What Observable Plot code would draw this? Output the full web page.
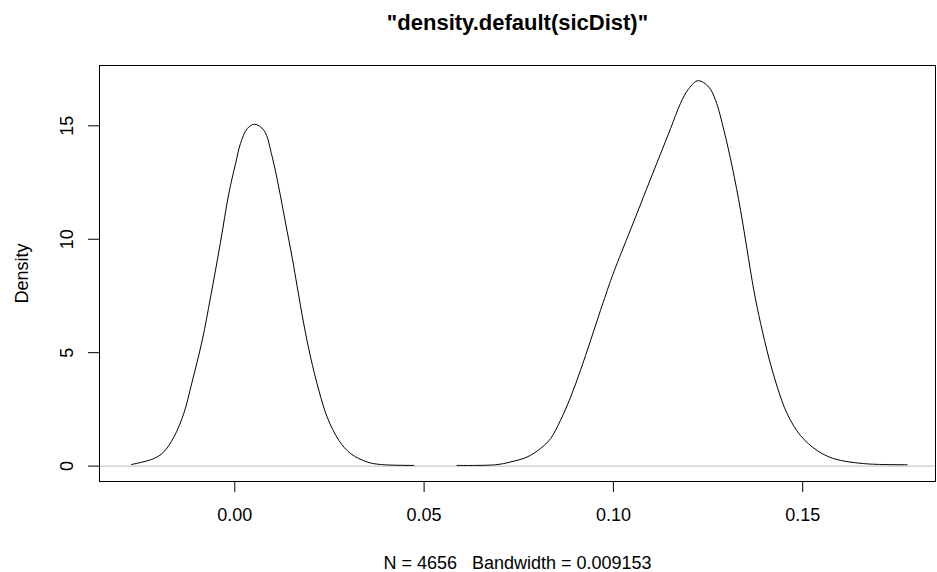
<!DOCTYPE html>
<html>
<head>
<meta charset="utf-8">
<script src="https://cdn.jsdelivr.net/npm/d3@7"></script>
<script src="https://cdn.jsdelivr.net/npm/@observablehq/plot@0.6"></script>
<style>
  html, body { margin: 0; padding: 0; background: #fff; }
  #chart svg { display: block; }
</style>
</head>
<body>
<div id="chart"></div>
<script>
// Density estimate (x: sicDist value, y: density)
const densX = [
  -0.0273, -0.0214, -0.0188, -0.0161, -0.0135, -0.0113, -0.0086, -0.0064, -0.0038, -0.0016,
  0.0002, 0.0015, 0.0033, 0.0052, 0.0077, 0.0099, 0.0116, 0.0134, 0.0152, 0.0165,
  0.0182, 0.0200, 0.0222, 0.0244, 0.0275, 0.0306, 0.0350, 0.0385, 0.0473,
  0.0530,
  0.0587, 0.0689, 0.0728, 0.0772, 0.0807, 0.0834, 0.0860, 0.0887, 0.0913, 0.0940,
  0.0966, 0.0993, 0.1006, 0.1027, 0.1054, 0.1080, 0.1102, 0.1124, 0.1151, 0.1177,
  0.1199, 0.1224, 0.1252, 0.1270, 0.1292, 0.1314, 0.1336, 0.1353, 0.1371, 0.1389,
  0.1410, 0.1433, 0.1459, 0.1494, 0.1538, 0.1582, 0.1661, 0.1776
];
const densY = [
  0.07, 0.33, 0.62, 1.28, 2.31, 3.70, 5.55, 7.45, 9.85, 12.0,
  13.33, 14.22, 14.88, 15.07, 14.80, 13.62, 12.30, 10.72, 9.15, 7.89,
  6.28, 4.81, 3.34, 2.16, 1.13, 0.55, 0.18, 0.07, 0.03,
  null,
  0.03, 0.06, 0.18, 0.40, 0.77, 1.21, 2.01, 3.04, 4.22, 5.55,
  6.87, 8.19, 8.77, 9.66, 10.79, 11.89, 12.82, 13.74, 14.88, 15.98,
  16.64, 16.99, 16.71, 16.12, 14.80, 13.18, 11.27, 9.55, 7.75, 6.28,
  4.81, 3.48, 2.31, 1.35, 0.69, 0.33, 0.11, 0.06
];
const xTicks = [0.00, 0.05, 0.10, 0.15];
const yTicks = [0, 5, 10, 15];
const titleText = "\"density.default(sicDist)\"";
const yLabel = "Density";
const caption = "N = 4656   Bandwidth = 0.009153";

const rows = densX.map((x, i) => ({x, y: densY[i] == null ? NaN : densY[i]}));

const font = "'Liberation Sans', Arial, Helvetica, sans-serif";

const chart = Plot.plot({
  width: 937,
  height: 572,
  marginLeft: 99,
  marginRight: 2,
  marginTop: 65,
  marginBottom: 91,
  style: {fontFamily: font, fontSize: "18px", color: "#000", background: "#fff"},
  x: {domain: [-0.03574, 0.18508]},
  y: {domain: [-0.679, 17.66]},
  marks: [
    Plot.ruleY([0], {stroke: "#bebebe", strokeWidth: 1}),
    Plot.line(rows, {x: "x", y: "y", stroke: "#000", strokeWidth: 1, curve: "catmull-rom"}),
    Plot.frame({stroke: "#000", strokeWidth: 1}),
    Plot.axisX({ticks: xTicks, tickSize: 11, tickPadding: 16, tickFormat: d3.format(".2f"), label: null, fontSize: 18}),
    Plot.axisY({ticks: yTicks, tickSize: 11, tickFormat: () => "", label: null}),
    Plot.text(yTicks, {y: d => d, frameAnchor: "left", text: d => String(d), rotate: -90, dx: -27, lineAnchor: "bottom", textAnchor: "middle", fontSize: 18, fill: "#000"}),
    Plot.text([yLabel], {frameAnchor: "left", text: d => d, rotate: -90, dx: -72, lineAnchor: "bottom", textAnchor: "middle", fontSize: 18, fill: "#000"}),
    Plot.text([titleText], {frameAnchor: "top", text: d => d, dy: -36, lineAnchor: "bottom", fontSize: 22, fontWeight: "bold", fill: "#000"}),
    Plot.text([caption], {frameAnchor: "bottom", text: d => d, dy: 87, lineAnchor: "bottom", fontSize: 18, fill: "#000"})
  ]
});
document.getElementById("chart").appendChild(chart);
</script>
</body>
</html>
